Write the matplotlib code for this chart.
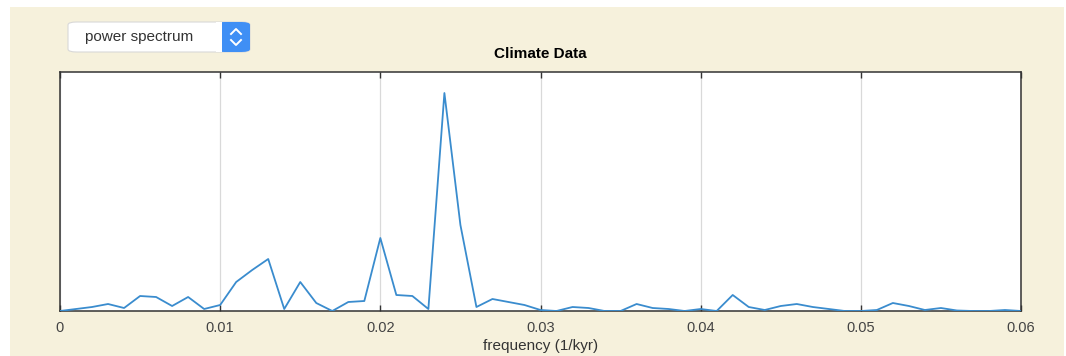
import matplotlib
matplotlib.use("Agg")
import matplotlib.pyplot as plt
from matplotlib.patches import FancyBboxPatch, Rectangle
from matplotlib.lines import Line2D

# frequency axis (1/kyr), one sample every 0.001
freq = [i / 1000 for i in range(61)]
# power (arbitrary units)
power = [0, 2, 4, 7, 3, 15, 14, 5, 14, 2,
         6, 29, 41, 52, 2, 29, 8, 0, 9, 10,
         73, 16, 15, 2, 218, 86, 4, 12, 9, 6,
         1, 0, 4, 3, 0, 0, 7, 3, 2, 0,
         2, 0, 16, 4, 1, 5, 7, 4, 2, 0,
         0, 1, 8, 5, 1, 3, 0.5, 0, 0, 1, 0]
xticks = [0, 0.01, 0.02, 0.03, 0.04, 0.05, 0.06]
xticklabels = ["0", "0.01", "0.02", "0.03", "0.04", "0.05", "0.06"]

W, H = 1066, 356
plt.rcParams['font.family'] = ['Liberation Sans', 'DejaVu Sans']

fig = plt.figure(figsize=(W / 100, H / 100), dpi=100)
fig.patch.set_facecolor("white")


def px(x, y):
    # pixel coords (top-left origin) -> figure fraction
    return x / W, 1 - y / H


# cream panel behind everything
x0, y0 = px(10, 356)
fig.add_artist(Rectangle((x0, y0), (1064 - 10) / W, (356 - 7) / H,
                         transform=fig.transFigure, facecolor="#f6f1dc",
                         edgecolor="none", zorder=0))

ax = fig.add_axes([60 / W, 1 - 311 / H, 961 / W, 239 / H])
ax.plot(freq, power, color="#3a8cce", lw=1.3, zorder=3)
ax.set_xlim(0, 0.06)
ax.set_ylim(0, 239)
ax.set_xticks(xticks)
ax.set_xticklabels(xticklabels)
ax.set_yticks([])
ax.grid(axis="x", color="#d9d9d9", lw=0.9)
ax.tick_params(axis="x", direction="in", length=4, width=1, color="#333333",
               top=True, labelsize=10.5, labelcolor="#444444", pad=7)
for s in ax.spines.values():
    s.set_color("#333333")
    s.set_linewidth(1.1)
ax.set_title("Climate Data", fontsize=11, fontweight="bold", pad=10)
ax.set_xlabel("frequency (1/kyr)", fontsize=11, color="#333333", labelpad=3)

# popup menu widget
bx, by = px(68, 52)
fig.add_artist(FancyBboxPatch((bx, by), (250 - 68) / W, 30 / H,
                              boxstyle="round,pad=0,rounding_size=0.008",
                              transform=fig.transFigure, facecolor="white",
                              edgecolor="#d8d8d8", lw=0.8, zorder=5))
bx2, _ = px(216, 52)
fig.add_artist(FancyBboxPatch((bx2, by), (250 - 216) / W, 30 / H,
                              boxstyle="round,pad=0,rounding_size=0.008",
                              transform=fig.transFigure, facecolor="#3f8ff5",
                              edgecolor="none", zorder=6))
fig.add_artist(Rectangle((bx2, by), 6 / W, 30 / H, transform=fig.transFigure,
                         facecolor="white", edgecolor="none", zorder=7))
for ya, yb in [(34, 29), (40, 45)]:
    xs = [231 / W, 236 / W, 241 / W]
    ys = [1 - ya / H, 1 - yb / H, 1 - ya / H]
    fig.add_artist(Line2D(xs, ys, transform=fig.transFigure, color="white",
                          lw=1.4, zorder=8))
tx, ty = px(85, 37)
fig.text(tx, ty, "power spectrum", fontsize=11, color="#333333",
         va="center", ha="left", zorder=9)

fig.savefig("out.png", dpi=100)
